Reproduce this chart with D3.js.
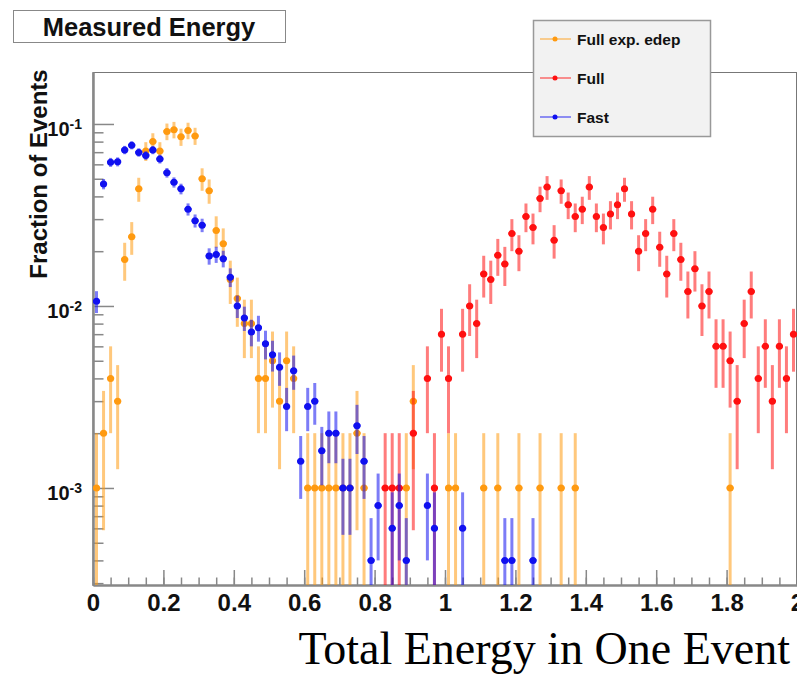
<!DOCTYPE html>
<html>
<head>
<meta charset="utf-8">
<script src="https://cdn.jsdelivr.net/npm/d3@7"></script>
<style>
  body { margin: 0; background: #fff; }
  text { font-family: 'Liberation Sans', Arial, Helvetica, sans-serif; }
</style>
</head>
<body>
<svg id="viz"></svg>
<script>
const width = 797;
const height = 675;

// histogram binning: 100 bins of 0.02 from 0 to 2
const binLow = 0;
const binWidth = 0.02;

// entries per bin (fraction = count / total, error = sqrt(count) / total)
const edepCounts = [
  1, 2, 4, 3, 18, 24, 44, 71, 80, 71,
  91, 93, 85, 92, 86, 50, 43, 26, 22, 14,
  11, 8, 8, 4, 4, 5, 3, 5, 4, 0,
  1, 1, 1, 1, 1, 1, 1, 2, 1, 0,
  0, 0, 0, 0, 1, 3, 0, 0, 0, 0,
  1, 1, 0, 0, 0, 1, 0, 1, 0, 0,
  1, 0, 0, 1, 0, 0, 1, 0, 1, 0,
  0, 0, 0, 0, 0, 0, 0, 0, 0, 0,
  0, 0, 0, 0, 0, 0, 0, 0, 0, 0,
  1, 0, 0, 0, 0, 0, 0, 0, 0, 0
];
const fullCounts = [
  0, 0, 0, 0, 0, 0, 0, 0, 0, 0,
  0, 0, 0, 0, 0, 0, 0, 0, 0, 0,
  0, 0, 0, 0, 0, 0, 0, 0, 0, 0,
  0, 0, 0, 0, 0, 0, 0, 0, 0, 0,
  0, 1, 1, 1, 0, 2, 0, 4, 1, 7,
  4, 0, 7, 10, 8, 15, 14, 19, 17, 25,
  20, 31, 27, 39, 45, 23, 43, 36, 31, 34,
  45, 31, 27, 32, 36, 44, 32, 20, 25, 34,
  21, 15, 25, 18, 12, 16, 10, 12, 6, 6,
  5, 3, 8, 12, 4, 6, 3, 6, 4, 7
];
const fastCounts = [
  53, 234, 308, 310, 360, 382, 349, 336, 360, 321,
  270, 239, 220, 170, 147, 139, 94, 96, 91, 72,
  50, 43, 36, 38, 31, 27, 23, 14, 22, 7,
  14, 15, 8, 10, 10, 5, 5, 11, 7, 2,
  4, 0, 3, 4, 2, 0, 0, 4, 3, 0,
  0, 0, 3, 0, 0, 0, 0, 0, 2, 2,
  0, 0, 2, 0, 0, 0, 0, 0, 0, 0,
  0, 0, 0, 0, 0, 0, 0, 0, 0, 0,
  0, 0, 0, 0, 0, 0, 0, 0, 0, 0,
  0, 0, 0, 0, 0, 0, 0, 0, 0, 0
];

const seriesNames = ['Full exp. edep', 'Full', 'Fast'];
const seriesTotals = [1000, 1000, 5000];
const seriesColors = ['#ff9a10', '#ff1010', '#1010f0'];

const xTicks = [0, 0.2, 0.4, 0.6, 0.8, 1, 1.2, 1.4, 1.6, 1.8, 2];
const xTickLabels = ['0', '0.2', '0.4', '0.6', '0.8', '1', '1.2', '1.4', '1.6', '1.8', '2'];
const yTicks = [1e-3, 1e-2, 1e-1];
const yTickExps = ['-3', '-2', '-1'];

const frame = { left: 93, right: 797, top: 72, bottom: 585 };
const yRange = [2.93e-4, 0.193];

const svg = d3.select('#viz').attr('width', width).attr('height', height);
svg.append('rect').attr('width', width).attr('height', height).attr('fill', '#fff');

const x = d3.scaleLinear().domain([0, 2]).range([frame.left, frame.right]);
const y = d3.scaleLog().domain(yRange).range([frame.bottom, frame.top]);

svg.append('defs').append('clipPath').attr('id', 'clip')
  .append('rect')
  .attr('x', frame.left).attr('y', frame.top)
  .attr('width', frame.right - frame.left).attr('height', frame.bottom - frame.top);

// frame
svg.append('rect')
  .attr('x', frame.left).attr('y', frame.top + 0.5)
  .attr('width', frame.right - frame.left - 0.5).attr('height', frame.bottom - frame.top)
  .attr('fill', 'none').attr('stroke', '#777').attr('stroke-width', 1);

// x axis: minor then major ticks (inside the frame)
const xMinor = d3.range(0, 2.0001, 0.05);
svg.append('g')
  .attr('class', 'axis')
  .attr('transform', 'translate(0,' + frame.bottom + ')')
  .call(d3.axisBottom(x).tickValues(xMinor).tickSizeInner(-7.5).tickSizeOuter(0).tickFormat(''));
const xAxis = svg.append('g')
  .attr('class', 'axis')
  .attr('transform', 'translate(0,' + frame.bottom + ')')
  .call(d3.axisBottom(x).tickValues(xTicks).tickSizeInner(-15).tickSizeOuter(0).tickPadding(9)
    .tickFormat((d, i) => xTickLabels[i]));
xAxis.selectAll('text')
  .attr('font-size', 24).attr('font-weight', 'bold').attr('fill', '#111');

// y axis (log)
const yMinor = [];
[1e-4, 1e-3, 1e-2].forEach(function (dec) {
  for (let k = 2; k <= 9; k++) {
    const v = k * dec;
    if (v > yRange[0] && v < yRange[1]) yMinor.push(v);
  }
});
svg.append('g')
  .attr('class', 'axis')
  .attr('transform', 'translate(' + frame.left + ',0)')
  .call(d3.axisLeft(y).tickValues(yMinor).tickSizeInner(-10.5).tickSizeOuter(0).tickFormat(''));
const yAxis = svg.append('g')
  .attr('class', 'axis')
  .attr('transform', 'translate(' + frame.left + ',0)')
  .call(d3.axisLeft(y).tickValues(yTicks).tickSizeInner(-21).tickSizeOuter(0).tickPadding(11)
    .tickFormat(''));
yAxis.selectAll('.tick text')
  .attr('dy', null)
  .attr('y', 12)
  .attr('font-size', 20).attr('font-weight', 'bold').attr('fill', '#111')
  .each(function (d, i) {
    const t = d3.select(this);
    t.append('tspan').text('10');
    t.append('tspan').attr('font-size', 14).attr('dy', -7).text(yTickExps[i]);
  });

svg.selectAll('.axis path.domain').attr('stroke', '#888').attr('stroke-width', 2);
svg.selectAll('.axis .tick line').attr('stroke', '#888').attr('stroke-width', 1.5);

// data
const plot = svg.append('g').attr('clip-path', 'url(#clip)');
const allCounts = [edepCounts, fullCounts, fastCounts];

allCounts.forEach(function (counts, s) {
  const total = seriesTotals[s];
  const pts = counts
    .map((c, i) => ({ x: binLow + binWidth * (i + 0.5), n: c }))
    .filter(d => d.n > 0)
    .map(d => ({
      x: d.x,
      v: d.n / total,
      lo: (d.n - Math.sqrt(d.n)) / total,
      hi: (d.n + Math.sqrt(d.n)) / total
    }));

  const g = plot.append('g');
  g.selectAll('line.err')
    .data(pts)
    .join('line')
    .attr('class', 'err')
    .attr('x1', d => x(d.x)).attr('x2', d => x(d.x))
    .attr('y1', d => d.lo > 0 ? y(d.lo) : frame.bottom + 5)
    .attr('y2', d => y(d.hi))
    .attr('stroke', seriesColors[s]).attr('stroke-opacity', 0.55).attr('stroke-width', 3);
  g.selectAll('line.xerr')
    .data(pts)
    .join('line')
    .attr('class', 'xerr')
    .attr('x1', d => x(d.x - binWidth / 2)).attr('x2', d => x(d.x + binWidth / 2))
    .attr('y1', d => y(d.v)).attr('y2', d => y(d.v))
    .attr('stroke', seriesColors[s]).attr('stroke-width', 2.5);
  g.selectAll('circle')
    .data(pts)
    .join('circle')
    .attr('cx', d => x(d.x))
    .attr('cy', d => y(d.v))
    .attr('r', 3.5)
    .attr('fill', seriesColors[s]);
});

// title box
svg.append('rect')
  .attr('x', 13.5).attr('y', 10.5).attr('width', 272).attr('height', 32)
  .attr('fill', '#fff').attr('stroke', '#888').attr('stroke-width', 1);
svg.append('text')
  .attr('x', 149).attr('y', 36)
  .attr('text-anchor', 'middle')
  .attr('font-size', 25.5).attr('font-weight', 'bold').attr('fill', '#111')
  .text('Measured Energy');

// axis titles
svg.append('text')
  .attr('transform', 'translate(47,174) rotate(-90)')
  .attr('text-anchor', 'middle')
  .attr('font-size', 24).attr('font-weight', 'bold').attr('fill', '#111')
  .text('Fraction of Events');

svg.append('text')
  .attr('x', 790).attr('y', 664)
  .attr('text-anchor', 'end')
  .style('font-family', "'Liberation Serif', 'Times New Roman', serif")
  .attr('font-size', 46).attr('fill', '#000')
  .text('Total Energy in One Event');

// legend
const legend = svg.append('g');
legend.append('rect')
  .attr('x', 533.5).attr('y', 20.5).attr('width', 177).attr('height', 116)
  .attr('fill', '#f2f2f2').attr('stroke', '#999').attr('stroke-width', 1.5);
const legendY = [39, 78, 117];
seriesNames.forEach(function (name, s) {
  legend.append('line')
    .attr('x1', 540).attr('x2', 571).attr('y1', legendY[s]).attr('y2', legendY[s])
    .attr('stroke', seriesColors[s]).attr('stroke-opacity', 0.6).attr('stroke-width', 1.5);
  legend.append('circle')
    .attr('cx', 555).attr('cy', legendY[s]).attr('r', 2.5)
    .attr('fill', seriesColors[s]);
  legend.append('text')
    .attr('x', 577).attr('y', legendY[s] + 5.5)
    .attr('font-size', 15.5).attr('font-weight', 'bold').attr('fill', '#111')
    .text(name);
});
</script>
</body>
</html>
